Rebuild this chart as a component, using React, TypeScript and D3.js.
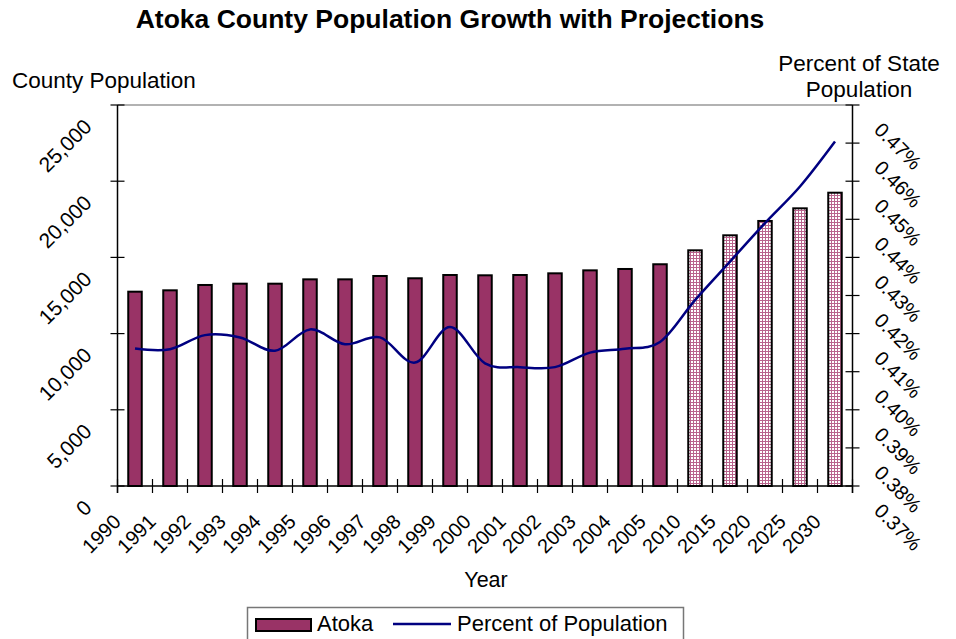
import React from 'react';
import * as d3 from 'd3';

const years = ['1990', '1991', '1992', '1993', '1994', '1995', '1996', '1997', '1998', '1999', '2000', '2001', '2002', '2003', '2004', '2005', '2010', '2015', '2020', '2025', '2030'];
const population = [12750, 12840, 13190, 13275, 13275, 13560, 13560, 13780, 13630, 13845, 13825, 13845, 13955, 14150, 14240, 14550, 15465, 16450, 17390, 18220, 19245];
const percentOfState = [0.4061, 0.4059, 0.4096, 0.409, 0.4055, 0.4111, 0.4072, 0.409, 0.4024, 0.4117, 0.4022, 0.4012, 0.4012, 0.405, 0.406, 0.4078, 0.4188, 0.4289, 0.439, 0.4486, 0.4604];
const projectedYears = ['2010', '2015', '2020', '2025', '2030'];
const leftTicks = [0, 5000, 10000, 15000, 20000, 25000];
const rightTicks = [0.37, 0.38, 0.39, 0.4, 0.41, 0.42, 0.43, 0.44, 0.45, 0.46, 0.47];

const FONT = '"Liberation Sans", Arial, sans-serif';
const BAR = '#993366';
const LINE = '#000080';

export default function App() {
  const left = 117.5;
  const right = 852.5;
  const top = 105;
  const bottom = 486;

  const x = d3.scaleBand<string>().domain(years).range([left, right]);
  const yL = d3.scaleLinear().domain([0, 25000]).range([bottom, top]);
  const yR = d3.scaleLinear().domain([0.37, 0.47]).range([bottom, top]);
  const bw = 13.5;
  const fmt = d3.format(',');

  const line = d3
    .line<number>()
    .x((_, i) => (x(years[i]) as number) + x.bandwidth() / 2)
    .y((d) => yR(d))
    .curve(d3.curveCardinal.tension(0));

  const boundaries = d3.range(years.length + 1).map((i) => left + i * x.step());

  return (
    <svg
      width={956}
      height={639}
      style={{ position: 'absolute', left: 0, top: 0, background: '#fff' }}
      fontFamily={FONT}
    >
      <defs>
        <pattern id="proj" width={3} height={3} patternUnits="userSpaceOnUse">
          <rect width={3} height={3} fill="#ffffff" />
          <rect width={3} height={1} fill="#b9648d" />
          <rect width={1} height={3} fill="#b9648d" />
        </pattern>
      </defs>
      <rect x={0} y={0} width={956} height={639} fill="#fff" />

      <text x={450} y={28} textAnchor="middle" fontSize={26.5} fontWeight="bold">
        Atoka County Population Growth with Projections
      </text>
      <text x={12} y={88} fontSize={22.5}>County Population</text>
      <text x={859} y={71} textAnchor="middle" fontSize={22.5}>Percent of State</text>
      <text x={859} y={97} textAnchor="middle" fontSize={22.5}>Population</text>

      {/* top border */}
      <line x1={left} x2={right} y1={top} y2={top} stroke="#999" strokeWidth={1.5} />

      {/* bars */}
      {years.map((yr, i) => {
        const cx = (x(yr) as number) + x.bandwidth() / 2;
        const proj = projectedYears.includes(yr);
        return (
          <rect
            key={yr}
            x={cx - bw / 2}
            y={yL(population[i])}
            width={bw}
            height={bottom - yL(population[i])}
            fill={proj ? 'url(#proj)' : BAR}
            stroke="#000"
            strokeWidth={2}
          />
        );
      })}

      {/* line */}
      <path d={line(percentOfState) || ''} fill="none" stroke={LINE} strokeWidth={2.5} />

      {/* axes */}
      <line x1={left} x2={left} y1={top} y2={bottom + 7} stroke="#000" strokeWidth={1.5} />
      <line x1={right} x2={right} y1={top} y2={bottom + 7} stroke="#000" strokeWidth={1.5} />
      <line x1={left} x2={right} y1={bottom} y2={bottom} stroke="#000" strokeWidth={1.5} />

      {leftTicks.map((v) => (
        <g key={v}>
          <line x1={left - 7} x2={left + 7} y1={yL(v)} y2={yL(v)} stroke="#000" strokeWidth={1.2} />
          <text
            transform={`translate(93,${yL(v) + 23}) rotate(-45)`}
            textAnchor="end"
            fontSize={21}
          >
            {fmt(v)}
          </text>
        </g>
      ))}

      {rightTicks.map((v) => (
        <g key={v}>
          <line x1={right - 7} x2={right + 7} y1={yR(v)} y2={yR(v)} stroke="#000" strokeWidth={1.2} />
          <text
            transform={`translate(873,${yR(v) + 26}) rotate(45)`}
            textAnchor="start"
            fontSize={20}
          >
            {`${v.toFixed(2)}%`}
          </text>
        </g>
      ))}

      {boundaries.map((bx, i) => (
        <line key={i} x1={bx} x2={bx} y1={bottom - 7} y2={bottom + 7} stroke="#000" strokeWidth={1.2} />
      ))}

      {years.map((yr) => {
        const cx = (x(yr) as number) + x.bandwidth() / 2;
        return (
          <text
            key={yr}
            transform={`translate(${cx - 13},523) rotate(-45)`}
            textAnchor="end"
            fontSize={20}
          >
            {yr}
          </text>
        );
      })}

      <text x={486} y={587} textAnchor="middle" fontSize={21.5}>Year</text>

      {/* legend */}
      <rect x={247.5} y={607.5} width={436} height={40} fill="#fff" stroke="#777" strokeWidth={1.5} />
      <rect x={256} y={619} width={55} height={12} fill={BAR} stroke="#000" strokeWidth={2} />
      <text x={317} y={631} fontSize={22}>Atoka</text>
      <line x1={393} x2={451} y1={624} y2={624} stroke={LINE} strokeWidth={2.5} />
      <text x={457} y={631} fontSize={22}>Percent of Population</text>
    </svg>
  );
}
